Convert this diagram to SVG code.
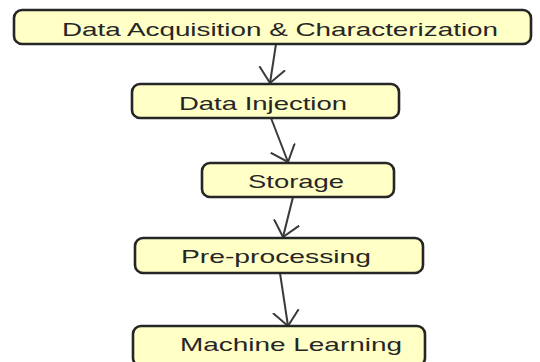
<svg xmlns="http://www.w3.org/2000/svg" width="540" height="362" viewBox="0 0 540 362">
<defs>
<style>
.box{fill:#ffffc6;stroke:#262626;stroke-width:2.6}
.lbl{font-family:"Liberation Sans",Arial,sans-serif;font-size:18.5px;fill:#262626;text-anchor:middle}
.edge{stroke:#3a3a3a;stroke-width:2;fill:none}
</style>
<marker id="arr" viewBox="0 0 16 28" refX="15" refY="14" markerWidth="16" markerHeight="28" markerUnits="userSpaceOnUse" orient="auto">
<path d="M0,1 L15,14 L0,27" fill="none" stroke="#3a3a3a" stroke-width="2"/>
</marker>
</defs>
<rect width="540" height="362" fill="#ffffff"/>
<g id="connectors">
<line class="edge" x1="276" y1="44" x2="270" y2="83" marker-end="url(#arr)"/>
<line class="edge" x1="271" y1="118" x2="288" y2="162" marker-end="url(#arr)"/>
<line class="edge" x1="293" y1="197" x2="283" y2="237" marker-end="url(#arr)"/>
<line class="edge" x1="280" y1="273" x2="288" y2="326" marker-end="url(#arr)"/>
</g>
<g id="n1">
<rect class="box" x="14" y="10" width="517" height="34" rx="8"/>
<text class="lbl" x="280" y="36" textLength="436" lengthAdjust="spacingAndGlyphs">Data Acquisition &amp; Characterization</text>
</g>
<g id="n2">
<rect class="box" x="132" y="84" width="267" height="34" rx="8"/>
<text class="lbl" x="263" y="110" textLength="168" lengthAdjust="spacingAndGlyphs">Data Injection</text>
</g>
<g id="n3">
<rect class="box" x="202" y="163" width="192" height="34" rx="8"/>
<text class="lbl" x="296" y="188" textLength="96" lengthAdjust="spacingAndGlyphs">Storage</text>
</g>
<g id="n4">
<rect class="box" x="135" y="238" width="288" height="35" rx="8"/>
<text class="lbl" x="276" y="263" textLength="190" lengthAdjust="spacingAndGlyphs">Pre-processing</text>
</g>
<g id="n5">
<rect class="box" x="133" y="326" width="292" height="40" rx="8"/>
<text class="lbl" x="291" y="351" textLength="222" lengthAdjust="spacingAndGlyphs">Machine Learning</text>
</g>
</svg>
